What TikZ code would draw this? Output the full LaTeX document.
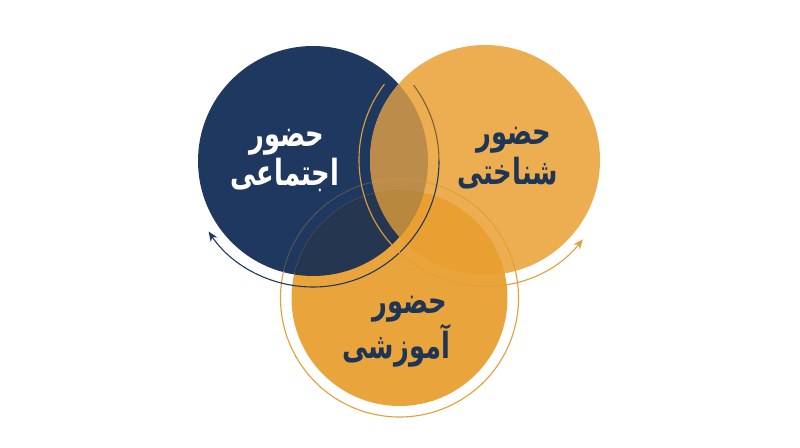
\documentclass[tikz,border=0pt]{standalone}
\usepackage{fontspec}
\usepackage{graphicx}
\newfontfamily\arabicfont[Script=Arabic]{DejaVu Sans}
\TeXXeTstate=1
\usetikzlibrary{arrows.meta}
\definecolor{navy}{HTML}{1F3860}
\definecolor{lorange}{HTML}{ECAE51}
\definecolor{borange}{HTML}{E9A53C}
\definecolor{rbcol}{HTML}{EAA031}
\definecolor{nrcol}{HTML}{BB8C4A}
\definecolor{nbcol}{HTML}{253651}
\definecolor{tricol}{HTML}{B9883F}
\definecolor{ringorange}{HTML}{E2A038}
\definecolor{textnavy}{HTML}{1F3556}
\definecolor{ringdim}{HTML}{7E5F36}
\newcommand\arlab[1]{\scalebox{0.86}[1.2]{\beginR #1\endR}}
\tikzset{
  lbl/.style={inner sep=0pt, font=\arabicfont\bfseries\fontsize{30}{34}\selectfont},
  ring/.style={line width=1.1pt},
  tip/.style={-{Stealth[length=10pt,width=8pt]}}
}
\begin{document}
\begin{tikzpicture}[x=1pt,y=1pt]
\useasboundingbox (0,0) rectangle (800,447);
\fill[white] (0,0) rectangle (800,447);
\coordinate (cN) at (313,286);
\coordinate (cR) at (485,287);
\coordinate (cB) at (399.5,149);
% base fills
\fill[navy] (cN) circle[radius=115];
\fill[lorange] (cR) circle[radius=115];
\fill[borange] (cB) circle[radius=108];
\begin{scope}
  \clip (cR) circle[radius=115];
  \fill[rbcol] (cB) circle[radius=108];
\end{scope}
\begin{scope}
  \clip (cN) circle[radius=115];
  \fill[nbcol] (cB) circle[radius=108];
  \fill[nrcol] (cR) circle[radius=115];
  \clip (cR) circle[radius=115];
  \fill[tricol] (cB) circle[radius=108];
\end{scope}
% bottom ring
\draw[ring, ringorange] ([shift={(167:119)}]cB) arc[start angle=167, end angle=437, radius=119];
\draw[ring, ringorange, opacity=0.25] ([shift={(77:119)}]cB) arc[start angle=77, end angle=167, radius=119];
% navy ring
\draw[ring, ringdim] ([shift={(37:126)}]cN) arc[start angle=37, end angle=0, radius=126];
\draw[ring, navy, tip] ([shift={(0:126)}]cN) arc[start angle=0, end angle=-146, radius=126];
% right ring
\draw[ring, ringorange, tip] ([shift={(143:126)}]cR) arc[start angle=143, end angle=321, radius=126];
% labels
\node[lbl, text=white] (n1) at (287,305) {\arlab{حضور}};
\node[lbl, text=white] (n2) at (285,272) {\arlab{اجتماعی}};
\node[lbl, text=textnavy] (r1) at (514,307) {\arlab{حضور}};
\node[lbl, text=textnavy] (r2) at (507.5,274) {\arlab{شناختی}};
\node[lbl, text=textnavy] (b1) at (410,138) {\arlab{حضور}};
\node[lbl, text=textnavy] (b2) at (396.5,101) {\arlab{آموزشی}};
\end{tikzpicture}
\end{document}
